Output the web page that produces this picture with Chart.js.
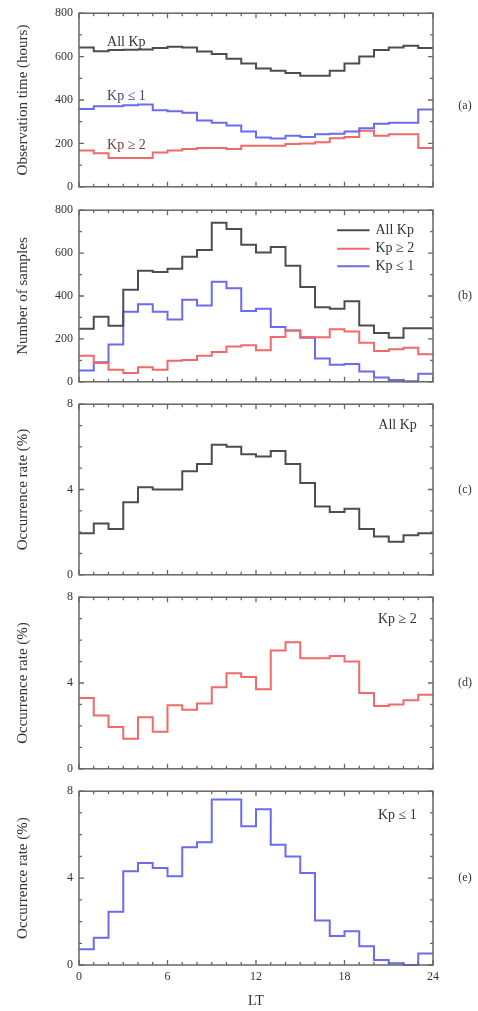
<!DOCTYPE html>
<html>
<head>
<meta charset="utf-8">
<script src="https://cdn.jsdelivr.net/npm/chart.js@4.4.1/dist/chart.umd.min.js"></script>
<style>
html,body{margin:0;padding:0;background:#fff;}
#wrap{position:relative;width:478px;height:1011px;overflow:hidden;background:#fff;}
#wrap canvas{position:absolute;left:0;}
</style>
</head>
<body>
<div id="wrap">
<canvas id="pa" width="478" height="200" style="top:0px"></canvas>
<canvas id="pb" width="478" height="198" style="top:197px"></canvas>
<canvas id="pc" width="478" height="197" style="top:391px"></canvas>
<canvas id="pd" width="478" height="198" style="top:584px"></canvas>
<canvas id="pe" width="478" height="233" style="top:778px"></canvas>
</div>
<script>
// ---- data ----
const hourEdges = [0,1,2,3,4,5,6,7,8,9,10,11,12,13,14,15,16,17,18,19,20,21,22,23,24];
const xTickLabels = [0,6,12,18,24];
const seriesNames = ['All Kp','Kp ≥ 2','Kp ≤ 1'];
const panelLabels = ['(a)','(b)','(c)','(d)','(e)'];
const yTitles = ['Observation time (hours)','Number of samples','Occurrence rate (%)','Occurrence rate (%)','Occurrence rate (%)'];

// (a) observation time (hours)
const obsAll   = [642,625,630,632,633,640,645,642,623,612,590,568,545,535,525,512,512,535,568,600,630,642,650,640];
const obsKpLe1 = [359,371,371,376,379,353,348,341,306,295,283,255,227,223,235,230,242,245,255,270,291,295,295,356];
const obsKpGe2 = [167,155,133,133,133,158,167,174,179,179,174,189,189,189,197,200,205,224,230,258,235,242,242,179];

// (b) number of samples
const nAll   = [247,303,261,429,518,512,527,583,614,742,712,639,603,629,541,442,348,341,376,262,227,205,250,250];
const nKpGe2 = [121,88,56,41,68,56,98,102,121,139,164,170,147,209,239,209,208,245,235,182,144,152,159,129];
const nKpLe1 = [53,91,174,326,361,326,291,382,356,467,436,330,341,255,239,205,109,79,83,48,20,8,3,38];

// (c)-(e) occurrence rate (%)
const rateAll   = [1.95,2.4,2.15,3.4,4.1,4.0,4.0,4.85,5.2,6.1,6.0,5.65,5.55,5.8,5.2,4.3,3.2,2.95,3.1,2.15,1.8,1.55,1.85,1.95];
const rateKpGe2 = [3.3,2.48,1.95,1.4,2.4,1.73,2.96,2.75,3.05,3.8,4.46,4.28,3.71,5.51,5.9,5.15,5.15,5.26,5.0,3.53,2.93,3.0,3.2,3.45];
const rateKpLe1 = [0.73,1.26,2.45,4.32,4.7,4.47,4.09,5.42,5.65,7.62,7.62,6.39,7.17,5.53,5.0,4.24,2.05,1.33,1.55,0.86,0.23,0.08,0,0.53];

// ---- styling ----
const FONT = "'Liberation Serif','Times New Roman',serif";
const C_ALL = '#4d4d4d', C_RED = '#f06a6a', C_BLUE = '#6b6bf0';
const TXT = '#333';

function steps(vals){
  const pts = vals.map((v,i)=>({x:hourEdges[i], y:v}));
  pts.push({x:hourEdges[hourEdges.length-1], y:vals[vals.length-1]});
  return pts;
}
function ds(label, vals, color){
  return {label, data:steps(vals), borderColor:color, borderWidth:2, stepped:true,
          pointRadius:0, fill:false, tension:0, clip:4};
}

const framePlugin = {
  id:'frame',
  afterDatasetsDraw(chart, args, o){
    const {ctx, chartArea:a, scales} = chart;
    const xs = scales.x, ys = scales.y;
    ctx.save();
    ctx.strokeStyle = '#666';
    ctx.lineWidth = 1.3;
    ctx.beginPath();
    for (const h of hourEdges){
      const px = xs.getPixelForValue(h);
      const len = xTickLabels.includes(h) ? 5 : 3;
      ctx.moveTo(px, a.bottom); ctx.lineTo(px, a.bottom - len);
      ctx.moveTo(px, a.top); ctx.lineTo(px, a.top + len);
    }
    for (let v = ys.min; v <= ys.max + 1e-9; v += o.minor){
      const py = ys.getPixelForValue(v);
      const major = Math.abs(v / o.major - Math.round(v / o.major)) < 1e-6;
      const len = major ? 5 : 3;
      ctx.moveTo(a.left, py); ctx.lineTo(a.left + len, py);
      ctx.moveTo(a.right, py); ctx.lineTo(a.right - len, py);
    }
    ctx.stroke();
    ctx.lineWidth = 1.5;
    ctx.strokeRect(a.left, a.top, a.right - a.left, a.bottom - a.top);

    // panel tag on the right
    ctx.fillStyle = TXT;
    ctx.font = '12px ' + FONT;
    ctx.textAlign = 'center';
    ctx.textBaseline = 'middle';
    ctx.fillText(o.tag, a.right + 32, (a.top + a.bottom) / 2 + (o.tagDy || 0));

    // annotations (in data units)
    ctx.font = '14px ' + FONT;
    for (const t of (o.texts || [])){
      ctx.fillStyle = t.color || TXT;
      ctx.textAlign = t.align || 'left';
      ctx.fillText(t.text, xs.getPixelForValue(t.x), ys.getPixelForValue(t.y));
    }
    // legend (panel b)
    if (o.legend){
      const L = o.legend;
      chart.data.datasets.forEach((d, i) => {
        const py = ys.getPixelForValue(L.y[i]);
        ctx.strokeStyle = d.borderColor;
        ctx.lineWidth = 2;
        ctx.beginPath();
        ctx.moveTo(xs.getPixelForValue(L.x0), py);
        ctx.lineTo(xs.getPixelForValue(L.x1), py);
        ctx.stroke();
        ctx.fillStyle = TXT;
        ctx.textAlign = 'left';
        ctx.fillText(d.label, xs.getPixelForValue(L.xt), py);
      });
    }
    ctx.restore();
  }
};

function makePanel(id, idx, datasets, yMax, yLabelStep, yMinor, extra, isBottom){
  const padBottom = isBottom ? 0 : 10;
  const padTop = idx === 0 ? 13 : 10;
  return new Chart(document.getElementById(id), {
    type:'line',
    data:{datasets},
    options:{
      responsive:false, animation:false, devicePixelRatio:1,
      layout:{padding:{left:12, right:45, top:padTop, bottom:padBottom}},
      plugins:{legend:{display:false}, tooltip:{enabled:false},
        frame:Object.assign({tag:panelLabels[idx], major:yLabelStep, minor:yMinor}, extra)},
      scales:{
        x:{type:'linear', min:0, max:24, display:isBottom,
           grid:{display:false, drawTicks:false}, border:{display:false},
           ticks:{stepSize:6, padding:5, color:TXT, font:{family:FONT, size:12},
                  callback:(v)=> xTickLabels.includes(v) ? String(v) : ''},
           title:{display:isBottom, text:'LT', color:TXT, font:{family:FONT, size:14}, padding:{top:0,bottom:1}},
           afterFit:(s)=>{ s.height = isBottom ? 46 : 0; }},
        y:{type:'linear', min:0, max:yMax,
           grid:{display:false, drawTicks:false}, border:{display:false},
           ticks:{stepSize:yLabelStep, padding:6, color:TXT, font:{family:FONT, size:12}},
           title:{display:true, text:yTitles[idx], color:TXT, font:{family:FONT, size:15}, padding:{top:2,bottom:0}},
           afterFit:(s)=>{ s.width = 67; }}
      }
    },
    plugins:[framePlugin]
  });
}

makePanel('pa', 0, [ds(seriesNames[0], obsAll, C_ALL), ds(seriesNames[2], obsKpLe1, C_BLUE), ds(seriesNames[1], obsKpGe2, C_RED)],
  800, 200, 100, {tagDy:6, texts:[
    {text:seriesNames[0], x:1.9, y:665},
    {text:seriesNames[2], x:1.9, y:415, color:'#44447a'},
    {text:seriesNames[1], x:1.9, y:190, color:'#7a3a3a'}]}, false);

makePanel('pb', 1, [ds(seriesNames[0], nAll, C_ALL), ds(seriesNames[1], nKpGe2, C_RED), ds(seriesNames[2], nKpLe1, C_BLUE)],
  800, 200, 100, {legend:{x0:17.5, x1:19.7, xt:20.1, y:[706,620,539]}}, false);

makePanel('pc', 2, [ds(seriesNames[0], rateAll, C_ALL)], 8, 4, 1,
  {texts:[{text:seriesNames[0], x:22.9, y:7.0, align:'right'}]}, false);

makePanel('pd', 3, [ds(seriesNames[1], rateKpGe2, C_RED)], 8, 4, 1,
  {texts:[{text:seriesNames[1], x:22.9, y:6.97, align:'right'}]}, false);

makePanel('pe', 4, [ds(seriesNames[2], rateKpLe1, C_BLUE)], 8, 4, 1,
  {texts:[{text:seriesNames[2], x:22.9, y:6.9, align:'right'}]}, true);
</script>
</body>
</html>
